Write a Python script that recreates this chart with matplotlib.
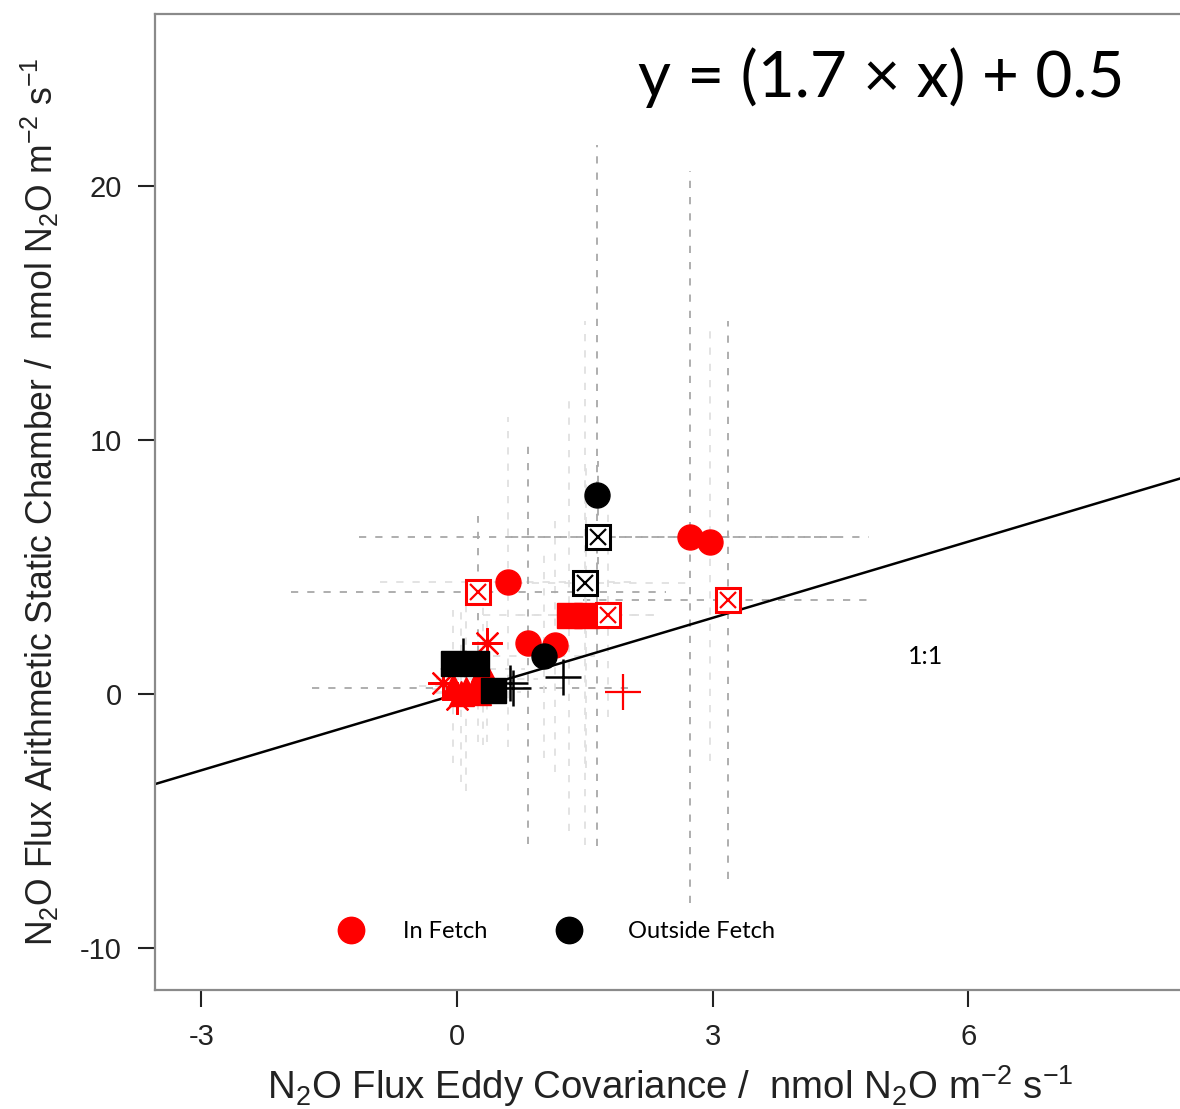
import matplotlib.pyplot as plt

plt.rcParams['font.family'] = ['Liberation Sans', 'DejaVu Sans']
plt.rcParams['mathtext.fontset'] = 'custom'
plt.rcParams['mathtext.rm'] = 'Liberation Sans'
plt.rcParams['mathtext.it'] = 'Liberation Sans'
plt.rcParams['axes.unicode_minus'] = False

# ---- In Fetch (red) ----
in_circ_x = [0.60, 0.83, 1.15, 2.73, 2.97]
in_circ_y = [4.41, 2.00, 1.93, 6.18, 5.98]
in_circ_xerr = [1.5, 0.0, 0.0, 2.1, 0.0]
in_circ_yerr = [6.5, 7.9, 5.0, 14.4, 8.6]

in_box_x = [0.25, 1.77, 3.18]
in_box_y = [4.00, 3.10, 3.70]
in_box_xerr = [2.2, 0.0, 1.7]
in_box_yerr = [3.0, 4.0, 11.0]

in_sq_x = [1.31, 1.51]
in_sq_y = [3.10, 3.10]
in_sq_xerr = [1.0, 0.8]
in_sq_yerr = [8.5, 6.0]

in_tri_x = [0.30, 0.35, 0.10, 0.05, 0.25, 0.20, -0.05]
in_tri_y = [1.00, 0.60, 0.20, 0.05, 0.10, 0.25, 0.30]
in_tri_xerr = [0.5, 0.6, 0.4, 0.3, 0.5, 1.9, 0.4]
in_tri_yerr = [3.0, 2.5, 4.0, 3.5, 2.0, 0.0, 3.0]

in_ast_x = [0.35, -0.16, 0.00]
in_ast_y = [2.00, 0.43, -0.20]

in_plus_x = [1.95]
in_plus_y = [0.08]

# ---- Outside Fetch (black) ----
out_circ_x = [1.64, 1.02]
out_circ_y = [7.83, 1.50]
out_circ_xerr = [0.0, 0.6]
out_circ_yerr = [13.8, 4.0]

out_box_x = [1.65, 1.50]
out_box_y = [6.18, 4.37]
out_box_xerr = [2.8, 1.2]
out_box_yerr = [3.0, 10.3]

out_sq_x = [-0.05, 0.22, 0.42]
out_sq_y = [1.22, 1.22, 0.16]

out_plus_x = [0.07, 0.66, 0.62, 1.24]
out_plus_y = [1.50, 0.25, 0.45, 0.67]

# clearly visible error bars: (group, index); the rest are very faint
strong = {('in_circ', 1), ('in_circ', 3), ('in_box', 0), ('in_box', 2),
          ('in_tri', 5), ('out_circ', 0), ('out_box', 0)}

W, H = 1180, 1109
fig = plt.figure(figsize=(W / 100, H / 100), dpi=100)
ax = fig.add_axes([155 / W, (H - 990) / H, (1224 - 155) / W, (990 - 14) / H])
ax.set_xlim(-3.545, 9.0)
ax.set_ylim(-11.65, 26.77)

# error bars
groups = {
    'in_circ': (in_circ_x, in_circ_y, in_circ_xerr, in_circ_yerr),
    'in_box': (in_box_x, in_box_y, in_box_xerr, in_box_yerr),
    'in_sq': (in_sq_x, in_sq_y, in_sq_xerr, in_sq_yerr),
    'in_tri': (in_tri_x, in_tri_y, in_tri_xerr, in_tri_yerr),
    'out_circ': (out_circ_x, out_circ_y, out_circ_xerr, out_circ_yerr),
    'out_box': (out_box_x, out_box_y, out_box_xerr, out_box_yerr),
}
for name, (gx, gy, gxe, gye) in groups.items():
    for i in range(len(gx)):
        col = '#a8a8a8' if (name, i) in strong else '#e0e0e0'
        if gxe[i] > 0:
            ax.plot([gx[i] - gxe[i], gx[i] + gxe[i]], [gy[i], gy[i]],
                    ls=(0, (4, 5)), lw=1.3, color=col, zorder=1)
        if gye[i] > 0:
            ax.plot([gx[i], gx[i]], [gy[i] - gye[i], gy[i] + gye[i]],
                    ls=(0, (4, 5)), lw=1.3, color=col, zorder=1)

# 1:1 line
ax.plot([-4, 10], [-4, 10], color='black', lw=1.8, zorder=2)

# red markers
ax.plot(in_tri_x, in_tri_y, '^', color='red', ms=18, ls='none', zorder=3)
ax.plot(in_ast_x, in_ast_y, marker=(8, 2, 0), color='red', ms=22, mew=1.6, ls='none', zorder=3)
ax.plot(in_circ_x, in_circ_y, 'o', color='red', ms=18, ls='none', zorder=3)
ax.plot(in_sq_x, in_sq_y, 's', color='red', ms=18, ls='none', zorder=3)
ax.plot(in_box_x, in_box_y, 's', mfc='white', mec='red', mew=2.2, ms=17, ls='none', zorder=3)
ax.plot(in_box_x, in_box_y, 'x', color='red', ms=11, mew=1.6, ls='none', zorder=3)
ax.plot(in_plus_x, in_plus_y, '+', color='red', ms=26, mew=1.6, ls='none', zorder=3)

# black markers
ax.plot(out_plus_x, out_plus_y, '+', color='black', ms=26, mew=1.8, ls='none', zorder=4)
ax.plot(out_sq_x, out_sq_y, 's', color='black', ms=18, ls='none', zorder=4)
ax.plot(out_circ_x, out_circ_y, 'o', color='black', ms=18, ls='none', zorder=4)
ax.plot(out_box_x, out_box_y, 's', mfc='white', mec='black', mew=2.2, ms=17, ls='none', zorder=4)
ax.plot(out_box_x, out_box_y, 'x', color='black', ms=11, mew=1.6, ls='none', zorder=4)

# axes styling
for s in ax.spines.values():
    s.set_color('#8a8a8a')
    s.set_linewidth(1.6)
ax.set_xticks([-3, 0, 3, 6])
ax.set_yticks([-10, 0, 10, 20])
ax.tick_params(direction='out', length=12, width=1.5, color='#222222',
               labelcolor='#222222', labelsize=21, pad=12)

ax.set_xlabel(r'N$_2$O Flux Eddy Covariance /  nmol N$_2$O m$^{-2}$ s$^{-1}$',
              fontsize=27.6, color='#222222')
ax.xaxis.set_label_coords((670 - 155) / (1224 - 155), -0.075)
ax.set_ylabel(r'N$_2$O Flux Arithmetic Static Chamber /  nmol N$_2$O m$^{-2}$ s$^{-1}$',
              fontsize=25.6, color='#222222')
ax.yaxis.set_label_coords(-0.088, 0.50)

# annotations
fig.text(638 / W, 1 - 78 / H, 'y = (1.7 × x) + 0.5', fontsize=46,
         family=['Lato', 'DejaVu Sans'], ha='left', va='center')
fig.text(926 / W, 1 - 657 / H, '1:1', fontsize=18,
         family=['Lato', 'DejaVu Sans'], ha='center', va='center')

# legend
fig.lines.append(plt.Line2D([351 / W], [1 - 930 / H], marker='o', color='red',
                            ms=19, transform=fig.transFigure))
fig.lines.append(plt.Line2D([569 / W], [1 - 930 / H], marker='o', color='black',
                            ms=19, transform=fig.transFigure))
fig.text(403 / W, 1 - 931 / H, 'In Fetch', fontsize=17,
         family=['Lato', 'DejaVu Sans'], ha='left', va='center')
fig.text(628 / W, 1 - 931 / H, 'Outside Fetch', fontsize=17,
         family=['Lato', 'DejaVu Sans'], ha='left', va='center')

fig.savefig('out.png', dpi=100)
